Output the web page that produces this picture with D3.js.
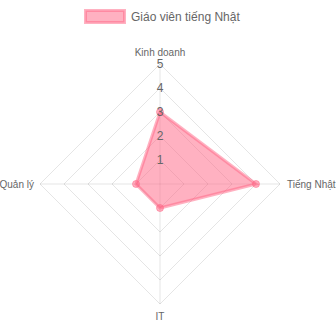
<!DOCTYPE html>
<html><head><meta charset="utf-8">
<script src="https://cdn.jsdelivr.net/npm/d3@7"></script>
<style>body{margin:0;background:#fff}svg{display:block}text{font-family:"Helvetica Neue",Helvetica,Arial,"Liberation Sans",sans-serif}</style>
</head><body><svg id="c" width="336" height="336"></svg>
<script>
const categories = ["Kinh doanh", "Tiếng Nhật", "IT", "Quản lý"];
const seriesName = "Giáo viên tiếng Nhật";
const values = [3, 4, 1, 1];
const ticks = [1, 2, 3, 4, 5];

const svg = d3.select("#c");
const cx = 160, cy = 184, R = 120;
const r = d3.scaleLinear().domain([0, 5]).range([0, R]);
const ang = d3.scaleLinear().domain([0, categories.length]).range([-Math.PI / 2, 1.5 * Math.PI]);
const pt = (i, v) => [cx + r(v) * Math.cos(ang(i)), cy + r(v) * Math.sin(ang(i))];

const g = svg.append("g");
// grid rings
ticks.forEach(t => {
  g.append("polygon")
    .attr("points", categories.map((c, i) => pt(i, t).join(",")).join(" "))
    .attr("fill", "none").attr("stroke", "rgba(0,0,0,0.1)").attr("stroke-width", 1);
});
// angle lines
categories.forEach((c, i) => {
  const [x, y] = pt(i, 5);
  g.append("line").attr("x1", cx).attr("y1", cy).attr("x2", x).attr("y2", y)
    .attr("stroke", "rgba(0,0,0,0.1)").attr("stroke-width", 1);
});
// data area
const line = d3.line().curve(d3.curveLinearClosed);
g.append("path")
  .attr("d", line(values.map((v, i) => pt(i, v))))
  .attr("fill", "rgba(255,99,132,0.5)")
  .attr("stroke", "rgba(255,99,132,0.5)").attr("stroke-width", 3);
values.forEach((v, i) => {
  const [x, y] = pt(i, v);
  g.append("circle").attr("cx", x).attr("cy", y).attr("r", 3.5)
    .attr("fill", "rgba(255,99,132,0.5)").attr("stroke", "rgba(255,99,132,0.5)").attr("stroke-width", 1);
});
// tick labels
ticks.forEach(t => {
  g.append("text").attr("x", cx).attr("y", cy - r(t)).attr("dy", "0.35em")
    .attr("text-anchor", "middle").attr("font-size", 12).attr("fill", "#666").text(t);
});
// point labels
const labelPos = [
  {x: cx, y: cy - R - 12, a: "middle"},
  {x: cx + R + 7, y: cy, a: "start"},
  {x: cx, y: cy + R + 12, a: "middle"},
  {x: cx - R - 6, y: cy, a: "end"}
];
categories.forEach((c, i) => {
  const p = labelPos[i];
  g.append("text").attr("x", p.x).attr("y", p.y).attr("dy", "0.35em")
    .attr("text-anchor", p.a).attr("font-size", 10).attr("fill", "#666").text(c);
});
// legend
svg.append("rect").attr("x", 85.5).attr("y", 10.5).attr("width", 39).attr("height", 12)
  .attr("fill", "rgba(255,99,132,0.5)").attr("stroke", "rgba(255,99,132,0.5)").attr("stroke-width", 3);
svg.append("text").attr("x", 131).attr("y", 16.5).attr("dy", "0.35em")
  .attr("font-size", 12).attr("fill", "#666").text(seriesName);
</script></body></html>
